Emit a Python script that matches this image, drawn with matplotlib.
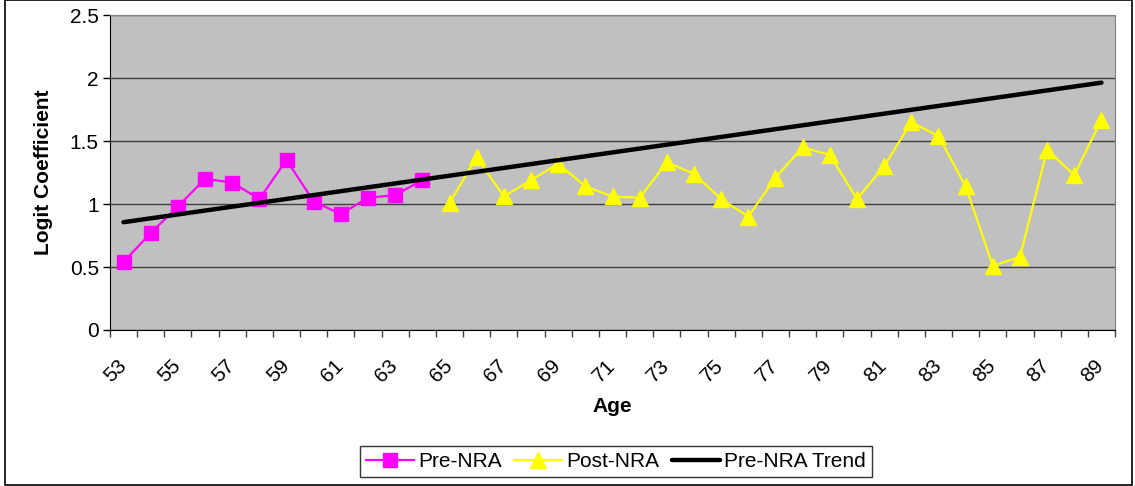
import matplotlib
matplotlib.use("Agg")
import matplotlib.pyplot as plt
import numpy as np
from matplotlib.patches import Rectangle
from matplotlib.transforms import ScaledTranslation

plt.rcParams["font.family"] = ["Liberation Sans", "DejaVu Sans"]

# ages on the category axis
pre_ages = list(range(53, 65))
post_ages = list(range(65, 90))
all_ages = pre_ages + post_ages

pre_nra = [0.54, 0.77, 0.98, 1.20, 1.17, 1.04, 1.35, 1.02, 0.92, 1.05, 1.07, 1.19]
post_nra = [1.01, 1.37, 1.06, 1.19, 1.32, 1.14, 1.06, 1.05, 1.33, 1.24, 1.04, 0.90,
            1.21, 1.45, 1.39, 1.04, 1.30, 1.65, 1.54, 1.14, 0.51, 0.58, 1.43, 1.23, 1.67]

# category positions (Excel style: 1..N)
pos = {a: i + 1 for i, a in enumerate(all_ages)}
pre_x = [pos[a] for a in pre_ages]
post_x = [pos[a] for a in post_ages]
all_x = [pos[a] for a in all_ages]

# linear trend fitted on Pre-NRA points, extended across all ages
slope, icpt = np.polyfit(pre_x, pre_nra, 1)
trend = [slope * x + icpt for x in all_x]

fig = plt.figure(figsize=(11.35, 4.86), dpi=100)
ax = fig.add_axes([0.0969, 0.321, 0.8855, 0.648])
ax.set_facecolor("#C0C0C0")

ax.plot(pre_x, pre_nra, color="#FF00FF", lw=1.6, marker="s", ms=10,
        mec="#FF00FF", mfc="#FF00FF", label="Pre-NRA", zorder=3)
ax.plot(post_x, post_nra, color="#FFFF00", lw=1.6, marker="^", ms=11,
        mec="#FFFF00", mfc="#FFFF00", label="Post-NRA", zorder=3)
ax.plot(all_x, trend, color="black", lw=3.2, solid_capstyle="round",
        label="Pre-NRA Trend", zorder=4)

ax.set_xlim(0.5, len(all_ages) + 0.5)
ax.set_ylim(0, 2.5)
ax.set_yticks(np.arange(0, 2.51, 0.5))
ax.set_yticklabels(["0", "0.5", "1", "1.5", "2", "2.5"])
ax.yaxis.grid(True, color="#404040", lw=1)
ax.set_axisbelow(True)

# tick marks at category boundaries, labels for every other category
ax.set_xticks(np.arange(0.5, len(all_ages) + 1, 1.0))
ax.set_xticklabels([])
ax.set_xticks(all_x[::2], minor=True)
ax.set_xticklabels([str(a) for a in all_ages[::2]], minor=True,
                   rotation=45, ha="right", va="top", rotation_mode="anchor")
ax.tick_params(axis="x", which="major", length=5, width=1, color="#404040")
ax.tick_params(axis="x", which="minor", length=0, pad=19, labelsize=15)
ax.tick_params(axis="y", length=5, width=1, color="black", labelsize=15, pad=3)
shift = ScaledTranslation(-7 / 100, 0, fig.dpi_scale_trans)
for lbl in ax.get_xticklabels(minor=True):
    lbl.set_transform(lbl.get_transform() + shift)

for s in ("top", "right"):
    ax.spines[s].set_color("#808080")
for s in ("left", "bottom"):
    ax.spines[s].set_color("black")

ax.set_ylabel("Logit Coefficient", fontsize=15, fontweight="bold", labelpad=12)
ax.set_xlabel("Age", fontsize=15, fontweight="bold", labelpad=8)

leg = fig.legend(loc="center", bbox_to_anchor=(0.5427, 0.0504), ncol=3,
                 fontsize=15, frameon=True, fancybox=False, edgecolor="black",
                 handlelength=2.3, handletextpad=0.2, columnspacing=0.6,
                 borderpad=0.3)
leg.get_frame().set_linewidth(1)

fig.patches.append(Rectangle((0.004, 0.003), 0.993, 0.996, transform=fig.transFigure,
                             fill=False, edgecolor="black", lw=1.2))

fig.savefig("out.png", dpi=100, facecolor="white")
